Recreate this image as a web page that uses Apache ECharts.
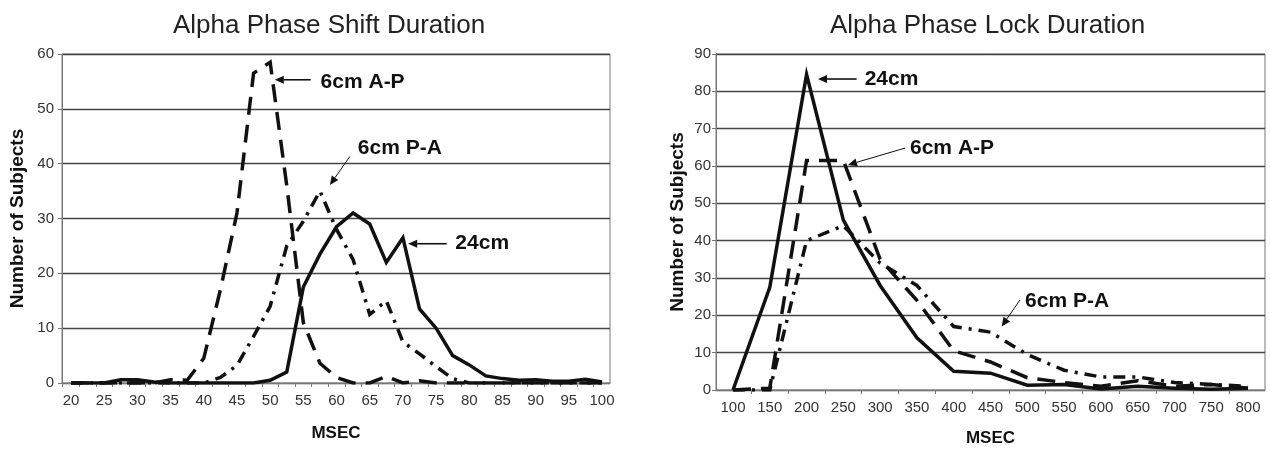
<!DOCTYPE html>
<html>
<head>
<meta charset="utf-8">
<title>Alpha Phase Duration</title>
<script src="https://cdn.jsdelivr.net/npm/echarts@6/dist/echarts.min.js"></script>
<style>
  html, body { margin: 0; padding: 0; background: #fff; }
  #main { width: 1270px; height: 450px; }
</style>
</head>
<body>
<div id="main"></div>
<script>
// ---- Alpha Phase Shift Duration (left) ----
var shiftMsec = [20, 22.5, 25, 27.5, 30, 32.5, 35, 37.5, 40, 42.5, 45, 47.5, 50, 52.5, 55, 57.5,
  60, 62.5, 65, 67.5, 70, 72.5, 75, 77.5, 80, 82.5, 85, 87.5, 90, 92.5, 95, 97.5, 100];
var shiftAP = [0, 0, 0, 0, 0, 0, 0.6, 0.5, 4.5, 17, 31, 56.5, 58.5, 36, 11, 3.6,
  1, 0, 0, 1.2, 0, 0.4, 0, 0, 0, 0, 0, 0, 0, 0, 0, 0, 0];
var shiftPA = [0, 0, 0, 0, 0, 0, 0, 0, 0, 1, 3.2, 8.5, 14, 25, 29.5, 35,
  28, 22.5, 12.5, 15, 7.5, 5.3, 3, 0.8, 0, 0, 0, 0, 0, 0, 0, 0, 0];
var shift24 = [0, 0, 0, 0.6, 0.6, 0.2, 0, 0, 0, 0, 0, 0, 0.5, 2, 17.5, 23.5,
  28.5, 31, 29, 22, 26.5, 13.5, 10, 5, 3.3, 1.3, 0.8, 0.5, 0.6, 0.3, 0.3, 0.7, 0.2];
var shiftLabels = [20, 25, 30, 35, 40, 45, 50, 55, 60, 65, 70, 75, 80, 85, 90, 95, 100];
var shiftTicks = [18.75, 21.25, 23.75, 26.25, 28.75, 31.25, 33.75, 36.25, 38.75, 41.25, 43.75,
  46.25, 48.75, 51.25, 53.75, 56.25, 58.75, 61.25, 63.75, 66.25, 68.75, 71.25, 73.75, 76.25,
  78.75, 81.25, 83.75, 86.25, 88.75, 91.25, 93.75, 96.25, 98.75];

// ---- Alpha Phase Lock Duration (right) ----
var lockMsec = [100, 150, 200, 250, 300, 350, 400, 450, 500, 550, 600, 650, 700, 750, 800];
var lock24 = [0, 27.5, 84.5, 45.5, 28, 14, 5, 4.5, 1.3, 1.5, 0.3, 1, 0.5, 0.2, 0.5];
var lockAP = [0, 0.5, 61.5, 61.5, 35, 24, 10.5, 7.5, 3.3, 2, 1, 2.5, 1, 1.5, 0.5];
var lockPA = [0, 0, 40, 44, 34, 28, 17, 15.5, 9.5, 5.3, 3.5, 3.5, 2, 1.5, 1];
var lockTicks = [125, 175, 225, 275, 325, 375, 425, 475, 525, 575, 625, 675, 725, 775];

// callouts: text anchor, arrow tail, arrow tip (data coords)
var notes = [
  { grid: 0, text: '6cm A-P', at: [57.6, 54.9], from: [56.1, 55.3], to: [50.7, 55.3], w: 1.6 },
  { grid: 0, text: '6cm P-A', at: [63.2, 42.8], from: [62.0, 41.3], to: [59.0, 36.1], w: 1 },
  { grid: 0, text: '24cm', at: [77.9, 25.5], from: [76.6, 25.4], to: [70.8, 25.4], w: 1.6 },
  { grid: 1, text: '24cm', at: [279, 83.3], from: [268, 83.3], to: [215.5, 83.3], w: 1.6 },
  { grid: 1, text: '6cm A-P', at: [340.6, 64.7], from: [333.8, 64.8], to: [256.3, 60.3], w: 1 },
  { grid: 1, text: '6cm P-A', at: [497, 23.7], from: [490, 24.1], to: [465.2, 17.0], w: 1 }
];

var FONT = '"Liberation Sans", Arial, sans-serif';
var INK = '#111';
var DASH_AP = [18, 10];
var DASH_PA = [12, 7, 3, 7];

function pairs(xs, ys) {
  var out = [];
  for (var i = 0; i < xs.length; i++) {
    out.push([xs[i], ys[i]]);
  }
  return out;
}

function lineSeries(idx, xs, ys, dash) {
  return {
    type: 'line',
    xAxisIndex: idx,
    yAxisIndex: idx,
    data: pairs(xs, ys),
    symbol: 'none',
    smooth: false,
    lineStyle: { color: INK, width: 3.5, type: dash || 'solid', cap: 'butt', join: 'miter' }
  };
}

function xAxisOf(idx, min, max, labels, ticks, gap) {
  return {
    type: 'value',
    gridIndex: idx,
    min: min,
    max: max,
    name: 'MSEC',
    nameLocation: 'middle',
    nameGap: gap,
    nameTextStyle: { fontFamily: FONT, fontWeight: 'bold', fontSize: 17, color: INK },
    axisLine: { show: true, lineStyle: { color: '#777', width: 1 } },
    axisTick: { show: true, length: 4, customValues: ticks, lineStyle: { color: '#777' } },
    axisLabel: { customValues: labels, margin: 10, fontFamily: FONT, fontSize: 15, color: '#333' },
    splitLine: { show: false }
  };
}

function yAxisOf(idx, max, gap, margin) {
  return {
    type: 'value',
    gridIndex: idx,
    min: 0,
    max: max,
    interval: 10,
    name: 'Number of Subjects',
    nameLocation: 'middle',
    nameGap: gap,
    nameTextStyle: { fontFamily: FONT, fontWeight: 'bold', fontSize: 19, color: INK },
    axisLine: { show: true, lineStyle: { color: '#777', width: 1 } },
    axisTick: { show: true, length: 4, lineStyle: { color: '#777' } },
    axisLabel: { margin: margin, fontFamily: FONT, fontSize: 15, color: '#333' },
    splitLine: { show: true, lineStyle: { color: '#444', width: 1.3 } }
  };
}

var chart = echarts.init(document.getElementById('main'), null, { renderer: 'canvas' });

var option = {
  animation: false,
  backgroundColor: '#fff',
  title: [
    { text: 'Alpha Phase Shift Duration', left: 168, top: 8,
      textStyle: { fontFamily: FONT, fontWeight: 'normal', fontSize: 26, color: '#222' } },
    { text: 'Alpha Phase Lock Duration', left: 825, top: 8,
      textStyle: { fontFamily: FONT, fontWeight: 'normal', fontSize: 26, color: '#222' } }
  ],
  grid: [
    { left: 62, right: 660, top: 54, bottom: 67, outerBoundsMode: 'none',
      show: true, borderColor: '#777', borderWidth: 1 },
    { left: 716, right: 5, top: 54, bottom: 60, outerBoundsMode: 'none',
      show: true, borderColor: '#777', borderWidth: 1 }
  ],
  xAxis: [
    xAxisOf(0, 18.64, 101.2, shiftLabels, shiftTicks, 42),
    xAxisOf(1, 76.9, 823.1, lockMsec, lockTicks, 40)
  ],
  yAxis: [
    yAxisOf(0, 60, 35, 8),
    yAxisOf(1, 90, 29, 5)
  ],
  series: [
    lineSeries(0, shiftMsec, shiftAP, DASH_AP),
    lineSeries(0, shiftMsec, shiftPA, DASH_PA),
    lineSeries(0, shiftMsec, shift24),
    lineSeries(1, lockMsec, lockAP, DASH_AP),
    lineSeries(1, lockMsec, lockPA, DASH_PA),
    lineSeries(1, lockMsec, lock24)
  ]
};
chart.setOption(option);

// arrow = shaft + filled head, in pixels
function arrow(p1, p2, w) {
  var ang = Math.atan2(p2[1] - p1[1], p2[0] - p1[0]);
  var len = 9, half = 4;
  var bx = p2[0] - len * Math.cos(ang);
  var by = p2[1] - len * Math.sin(ang);
  return [
    { type: 'line', z: 100, shape: { x1: p1[0], y1: p1[1], x2: bx, y2: by },
      style: { stroke: INK, lineWidth: w } },
    { type: 'polygon', z: 100, shape: { points: [
        [p2[0], p2[1]],
        [bx - half * Math.sin(ang), by + half * Math.cos(ang)],
        [bx + half * Math.sin(ang), by - half * Math.cos(ang)]
      ] }, style: { fill: INK } }
  ];
}

var graphics = [];
for (var i = 0; i < notes.length; i++) {
  var n = notes[i];
  var finder = { gridIndex: n.grid };
  var at = chart.convertToPixel(finder, n.at);
  var from = chart.convertToPixel(finder, n.from);
  var to = chart.convertToPixel(finder, n.to);
  graphics = graphics.concat(arrow(from, to, n.w));
  graphics.push({
    type: 'text', z: 100, x: at[0], y: at[1],
    style: { text: n.text, fontFamily: FONT, fontWeight: 'bold', fontSize: 21, fill: INK,
      align: 'left', verticalAlign: 'middle' }
  });
}
chart.setOption({ graphic: graphics });
</script>
</body>
</html>
